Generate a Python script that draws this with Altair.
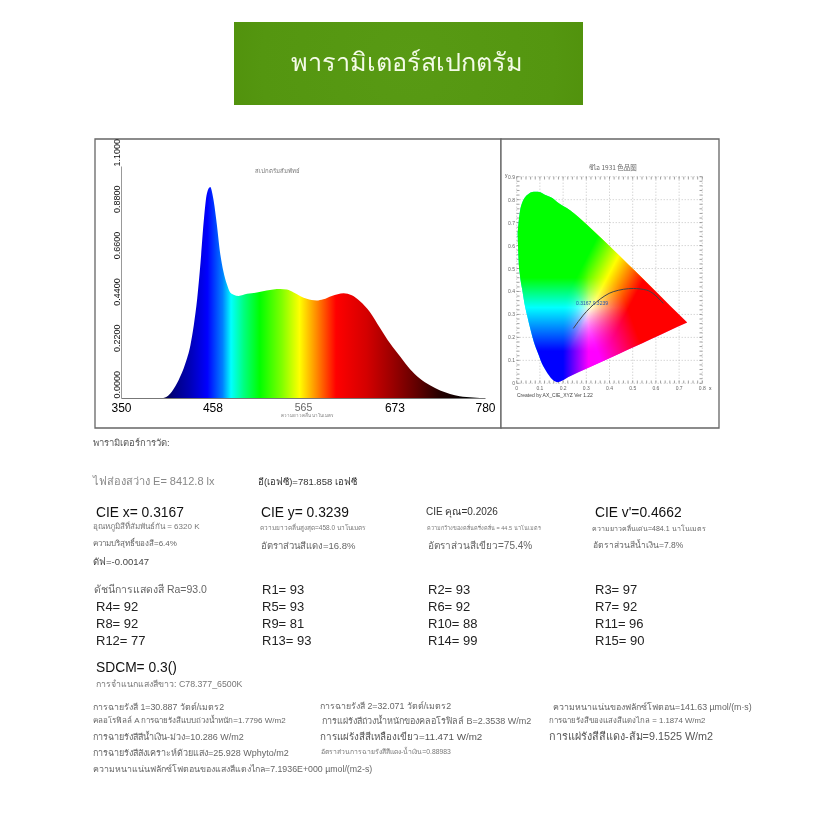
import altair as alt
import pandas as pd

FONT = "Liberation Sans"

# ---------- relative spectrum ----------
WAVELENGTH = [400, 402, 410, 418, 426, 432, 436, 440, 444, 448, 451.5, 455.4, 459, 463, 467, 471, 475, 479, 483, 489,
              499, 510.5, 522, 538, 546, 554, 562, 569.5, 581, 589, 599, 613, 622.6, 632, 644, 656, 668, 680, 691.5,
              703, 715, 727, 738.7, 750, 766, 774]
INTENSITY = [0, .002, .03, .084, .163, .25, .345, .47, .645, .85, .97, 1.0, .946, .83, .69, .6, .54, .50, .49, .484,
             .494, .50, .51, .517, .514, .50, .483, .47, .462, .468, .484, .497, .487, .46, .408, .332, .258, .195, .136,
             .092, .06, .035, .019, .008, .002, 0]
SPEC_COLOR_WL = [400, 412, 432, 452, 470, 480, 495, 514, 540, 561, 580, 604, 640, 668, 700, 727, 760, 774]
SPEC_COLOR = ["#00003a", "#000080", "#0000b8", "#0000ff", "#0080ff", "#00ffff", "#00ff80", "#00ff00", "#80ff00",
              "#ffff00", "#ff9000", "#ff0000", "#d40000", "#a00000", "#600000", "#240000", "#000000", "#000000"]
X_TICKS = [350, 458, 565, 673, 780]
Y_TICKS = [0, .22, .44, .66, .88, 1.1]

# ---------- CIE 1931 diagram ----------
LOCUS_X = [.004, .008, .014, .023, .037, .045, .074, .091, .114, .124, .155, .174, .23, .302, .373, .444, .512, .575,
           .627, .691, .735]
LOCUS_UP = [.655, .70, .75, .785, .812, .82, .834, .834, .826, .82, .806, .79, .754, .692, .624, .555, .488, .425,
            .373, .308, .265]
LOCUS_LOW = [.655, .538, .47, .413, .33, .295, .18, .133, .075, .058, .015, .005, .031, .064, .097, .13, .161, .191,
             .215, .245, .265]
PLANCK_X = [.244, .287, .345, .416, .503, .56, .632]
PLANCK_Y = [.239, .297, .355, .399, .413, .406, .348]
CIE_X_TICKS = [0, .1, .2, .3, .4, .5, .6, .7, .8]
CIE_Y_TICKS = [0, .1, .2, .3, .4, .5, .6, .7, .8, .9]
CIE_X_LABELS = ["0", "0.1", "0.2", "0.3", "0.4", "0.5", "0.6", "0.7", "0.8"]
CIE_Y_LABELS = ["0", "0.1", "0.2", "0.3", "0.4", "0.5", "0.6", "0.7", "0.8", "0.9"]
CIE_X_MINOR = [i / 50 for i in range(41)]
CIE_Y_MINOR = [i / 50 for i in range(46)]

# ---------- texts ----------
BANNER = "พารามิเตอร์สเปกตรัม"
SPEC_TITLE = "สเปกตรัมสัมพัทธ์"
SPEC_XTITLE = "ความยาวคลื่น นาโนเมตร"
CIE_TITLE = "ซีไอ 1931 色品图"
CIE_CREDIT = "Created by AX_CIE_XYZ Ver 1.22"
CIE_POINT = "0.3167,0.3239"
R_LABELS = [["R1= 93", "R2= 93", "R3= 97"],
            ["R4= 92", "R5= 93", "R6= 92", "R7= 92"],
            ["R8= 92", "R9= 81", "R10= 88", "R11= 96"],
            ["R12= 77", "R13= 93", "R14= 99", "R15= 90"]]

O = 8  # page margin


def label(t, x, y, size, color="#444", weight=None, font=FONT):
    kw = dict(text=t, align="left", baseline="middle", fontSize=size, color=color, font=font)
    if weight:
        kw["fontWeight"] = weight
    return alt.Chart().mark_text(**kw).encode(x=alt.value(x - O), y=alt.value(y - O))


def box(x0, y0, x1, y1, **kw):
    return alt.Chart().mark_rect(**kw).encode(x=alt.value(x0 - O), x2=alt.value(x1 - O),
                                              y=alt.value(y0 - O), y2=alt.value(y1 - O))


# ---------- spectrum panel ----------
SX = alt.Scale(domain=[350, 780], range=[121 - O, 485 - O], nice=False, zero=False)
SY = alt.Scale(domain=[0, 1.1], range=[398 - O, 166 - O], nice=False, zero=False)
spec_df = pd.DataFrame({"w": WAVELENGTH, "v": INTENSITY})
w0, w1 = WAVELENGTH[0], WAVELENGTH[-1]
spec_grad = alt.LinearGradient(
    gradient="linear", x1=0, x2=1, y1=0, y2=0,
    stops=[alt.GradientStop(offset=(w - w0) / (w1 - w0), color=c) for w, c in zip(SPEC_COLOR_WL, SPEC_COLOR)])
spectrum = alt.Chart(spec_df).mark_area(color=spec_grad, interpolate="monotone").encode(
    x=alt.X("w:Q", scale=SX, axis=alt.Axis(
        values=X_TICKS, offset=-(800 - (398 - O)), title=None, grid=False, ticks=False, domainColor="#777",
        domainWidth=1, labelFont=FONT, labelFontSize={"condition": {"test": "datum.value==565", "value": 10.5}, "value": 12},
        labelColor={"condition": {"test": "datum.value==565", "value": "#666"}, "value": "#000"},
        labelPadding=4, labelOverlap=False, labelFlush=False, format="d", zindex=1)),
    y=alt.Y("v:Q", scale=SY, axis=alt.Axis(
        values=Y_TICKS, offset=-(121 - O), title=None, grid=False, ticks=False, domainColor="#999",
        domainWidth=1, labelFont=FONT, labelFontSize=9, labelColor="#111", labelAngle=270, labelAlign="left",
        labelBaseline="bottom", labelPadding=0, labelOverlap=False, format=".4f", zindex=1)),
)
spec_group = alt.layer(spectrum)

# ---------- CIE panel ----------
CX = alt.Scale(domain=[0, .8], range=[516.7 - O, 702.3 - O], nice=False, zero=False)
CY = alt.Scale(domain=[0, .9], range=[383.3 - O, 176.7 - O], nice=False, zero=False)
bx0, bx1, by0, by1 = min(LOCUS_X), max(LOCUS_X), min(LOCUS_LOW), max(LOCUS_UP)


def grad(start, end, c0, c1):
    """Linear gradient between two chromaticity points, expressed in the shape's box."""
    u = lambda x: (x - bx0) / (bx1 - bx0)
    v = lambda y: (by1 - y) / (by1 - by0)
    return alt.LinearGradient(gradient="linear", x1=u(start[0]), y1=v(start[1]), x2=u(end[0]), y2=v(end[1]),
                              stops=[alt.GradientStop(offset=0, color=c0), alt.GradientStop(offset=1, color=c1)])


locus_df = pd.DataFrame({"x": LOCUS_X, "up": LOCUS_UP, "low": LOCUS_LOW})


def gamut(fill, **kw):
    return alt.Chart(locus_df).mark_area(fill=fill, interpolate="monotone", **kw).encode(
        x=alt.X("x:Q", scale=CX, axis=None), y=alt.Y("up:Q", scale=CY, axis=None), y2="low:Q")


WHITE, CYAN, MAG, YEL = "#ffffff", "#00ffff", "#ff00ff", "#ffff00"
gamut_layers = [
    gamut(WHITE),
    gamut(grad((.20, .3), (.31, .3), CYAN, WHITE), blend="multiply"),
    gamut(grad((.29, .526), (.39, .46), CYAN, WHITE), blend="multiply"),
    gamut(grad((.3, .14), (.3, .33), MAG, WHITE), blend="multiply"),
    gamut(grad((.39, .46), (.51, .38), WHITE, MAG), blend="multiply"),
    gamut(grad((.3, .33), (.3, .46), WHITE, YEL), blend="multiply"),
    gamut(grad((.33, .19), (.50, .27), WHITE, YEL), blend="multiply"),
]

x_tick_labels = alt.Chart(pd.DataFrame({"x": CIE_X_TICKS, "t": CIE_X_LABELS})).mark_text(
    font=FONT, fontSize=5, color="#666", baseline="middle").encode(
    x=alt.X("x:Q", scale=CX, axis=None), y=alt.value(388 - O), text="t:N")
y_tick_labels = alt.Chart(pd.DataFrame({"y": CIE_Y_TICKS, "t": CIE_Y_LABELS})).mark_text(
    font=FONT, fontSize=5, color="#666", align="right", baseline="middle").encode(
    y=alt.Y("y:Q", scale=CY, axis=None), x=alt.value(515 - O), text="t:N")

vgrid = alt.Chart(pd.DataFrame({"x": CIE_X_TICKS})).mark_rule(color="#aaa", strokeDash=[1, 2], strokeWidth=.7).encode(
    x=alt.X("x:Q", scale=CX, axis=None), y=alt.value(176.7 - O), y2=alt.value(383.3 - O))
hgrid = alt.Chart(pd.DataFrame({"y": CIE_Y_TICKS})).mark_rule(color="#aaa", strokeDash=[1, 2], strokeWidth=.7).encode(
    y=alt.Y("y:Q", scale=CY, axis=None), x=alt.value(516.7 - O), x2=alt.value(702.3 - O))


def xticks(y0, y1):
    return alt.Chart(pd.DataFrame({"x": CIE_X_MINOR})).mark_rule(color="#777", strokeWidth=.7).encode(
        x=alt.X("x:Q", scale=CX, axis=None), y=alt.value(y0 - O), y2=alt.value(y1 - O))


def yticks(x0, x1):
    return alt.Chart(pd.DataFrame({"y": CIE_Y_MINOR})).mark_rule(color="#777", strokeWidth=.7).encode(
        y=alt.Y("y:Q", scale=CY, axis=None), x=alt.value(x0 - O), x2=alt.value(x1 - O))


planck = alt.Chart(pd.DataFrame({"x": PLANCK_X, "y": PLANCK_Y})).mark_line(
    color="#444", strokeWidth=1, interpolate="monotone").encode(
    x=alt.X("x:Q", scale=CX, axis=None), y=alt.Y("y:Q", scale=CY, axis=None))

cie_group = alt.layer(vgrid, hgrid, xticks(176.7, 179.5), xticks(380.5, 383.3), yticks(516.7, 519.5),
                      yticks(699.5, 702.3), *gamut_layers, planck, x_tick_labels, y_tick_labels)

# ---------- page furniture and texts ----------
banner_fill = alt.RadialGradient(gradient="radial", x1=.5, y1=.5, x2=.5, y2=.5, r1=0, r2=.6,
                                 stops=[alt.GradientStop(offset=0, color="#589a14"),
                                        alt.GradientStop(offset=.7, color="#549610"),
                                        alt.GradientStop(offset=1, color="#4f8f0a")])
furniture = [
    box(234, 22, 583, 105, fill=banner_fill),
    box(95, 139, 501, 428, fill="#ffffff", stroke="#666666", strokeWidth=1.3),
    box(501, 139, 719, 428, fill="#ffffff", stroke="#666666", strokeWidth=1.3),
]
texts = [
    label(BANNER, 291, 63, 25.2, "#f4fbe8"),
    label(SPEC_TITLE, 255, 171, 6, "#777"),
    label(SPEC_XTITLE, 281, 416, 4.5, "#777"),
    label(CIE_TITLE, 589, 168, 6.5, "#666", font="Noto Sans CJK SC"),
    label(CIE_CREDIT, 517, 395, 5, "#444"),
    label(CIE_POINT, 576, 303, 5, "#2050b0"),
    label("y", 505, 175, 5, "#444"),
    label("x", 709, 388, 5, "#444"),
    label("พารามิเตอร์การวัด:", 93, 443, 9.5, "#555"),
    label("ไฟส่องสว่าง E= 8412.8 lx", 93, 482, 11, "#888"),
    label("อี(เอฟซี)=781.858 เอฟซี", 258, 482, 9.5, "#333"),
    label("CIE x= 0.3167", 96, 513, 13.8, "#111"),
    label("CIE y= 0.3239", 261, 513, 13.8, "#111"),
    label("CIE คุณ=0.2026", 426, 512, 10, "#333"),
    label("CIE v'=0.4662", 595, 513, 13.8, "#111"),
    label("อุณหภูมิสีที่สัมพันธ์กัน = 6320 K", 93, 527, 8, "#777"),
    label("ความบริสุทธิ์ของสี=6.4%", 93, 544, 8, "#666"),
    label("ดัฟ=-0.00147", 93, 562, 9.5, "#444"),
    label("ความยาวคลื่นสูงสุด=458.0 นาโนเมตร", 260, 528, 6.5, "#777"),
    label("อัตราส่วนสีแดง=16.8%", 261, 546, 9.5, "#666"),
    label("ความกว้างของคลื่นครึ่งคลื่น = 44.5 นาโนเมตร", 427, 528, 5.5, "#777"),
    label("อัตราส่วนสีเขียว=75.4%", 428, 546, 10, "#666"),
    label("ความยาวคลื่นเด่น=484.1 นาโนเมตร", 592, 529, 7, "#666"),
    label("อัตราส่วนสีน้ำเงิน=7.8%", 593, 545, 8.5, "#666"),
    label("ดัชนีการแสดงสี Ra=93.0", 94, 590, 10.5, "#666"),
    label("SDCM= 0.3()", 96, 668, 13.8, "#111"),
    label("การจำแนกแสงสีขาว: C78.377_6500K", 96, 684, 8.8, "#777"),
    label("การฉายรังสี 1=30.887 วัตต์/เมตร2", 93, 707, 8.8, "#666"),
    label("คลอโรฟิลล์ A การฉายรังสีแบบถ่วงน้ำหนัก=1.7796 W/m2", 93, 721, 8, "#666"),
    label("การฉายรังสีสีน้ำเงิน-ม่วง=10.286 W/m2", 93, 737, 9, "#666"),
    label("การฉายรังสีสังเคราะห์ด้วยแสง=25.928 Wphyto/m2", 93, 753, 9, "#666"),
    label("ความหนาแน่นฟลักซ์โฟตอนของแสงสีแดงไกล=7.1936E+000 µmol/(m2-s)", 93, 769, 8.8, "#666"),
    label("การฉายรังสี 2=32.071 วัตต์/เมตร2", 320, 706, 8.8, "#666"),
    label("การแผ่รังสีถ่วงน้ำหนักของคลอโรฟิลล์ B=2.3538 W/m2", 322, 721, 9, "#666"),
    label("การแผ่รังสีสีเหลืองเขียว=11.471 W/m2", 320, 737, 9.8, "#555"),
    label("อัตราส่วนการฉายรังสีสีแดง-น้ำเงิน=0.88983", 321, 752, 6.8, "#777"),
    label("ความหนาแน่นของฟลักซ์โฟตอน=141.63 µmol/(m·s)", 553, 707, 8.8, "#666"),
    label("การฉายรังสีของแสงสีแดงไกล = 1.1874 W/m2", 549, 721, 7.8, "#666"),
    label("การแผ่รังสีสีแดง-ส้ม=9.1525 W/m2", 549, 737, 10.8, "#555"),
]
R_COLS = [262, 428, 595]
for t, cx in zip(R_LABELS[0], R_COLS):
    texts.append(label(t, cx, 590, 13, "#222"))
for row, y in zip(R_LABELS[1:], [607, 624, 641]):
    for t, cx in zip(row, [96] + R_COLS):
        texts.append(label(t, cx, y, 13, "#222"))

chart = alt.layer(*furniture, spec_group, cie_group, *texts).resolve_scale(
    x="independent", y="independent").properties(
    width=800, height=800, padding=0, background="#ffffff",
    autosize=alt.AutoSizeParams(type="none")).configure_view(strokeWidth=0)

chart.save("out.html", embed_options={"renderer": "svg", "actions": False})
